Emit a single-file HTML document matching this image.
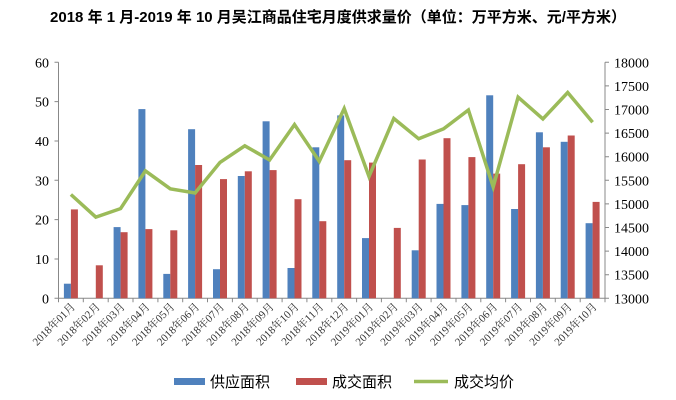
<!DOCTYPE html>
<html><head><meta charset="utf-8"><style>
body{margin:0;background:#fff;}
svg{display:block;}
.t{font-size:14px;}
.x{font-size:11px;fill:#333;}
.g{font-family:"Liberation Sans","Noto Sans CJK SC",sans-serif;font-size:15px;}
</style></head><body>
<svg width="676" height="400" xmlns="http://www.w3.org/2000/svg" font-family="'Liberation Serif','Noto Serif CJK SC',serif">
<text x="338" y="22" text-anchor="middle" font-family="'Liberation Sans','Noto Sans CJK SC',sans-serif" font-weight="bold" font-size="15">2018 年 1 月-2019 年 10 月吴江商品住宅月度供求量价（单位：万平方米、元/平方米）</text>
<g stroke="#888" fill="none">
<line x1="58.5" y1="62.3" x2="58.5" y2="298.3"/><line x1="605" y1="62.3" x2="605" y2="298.3"/><line x1="58.5" y1="298.3" x2="605" y2="298.3"/>
<path d="M54.5 298.3H58.5M54.5 259H58.5M54.5 219.6H58.5M54.5 180.3H58.5M54.5 141H58.5M54.5 101.6H58.5M54.5 62.3H58.5"/>
<path d="M605 298.3H609M605 274.7H609M605 251.1H609M605 227.5H609M605 203.9H609M605 180.3H609M605 156.7H609M605 133.1H609M605 109.5H609M605 85.9H609M605 62.3H609"/>
<path d="M58.5 298.3v4M83.3 298.3v4M108.2 298.3v4M133 298.3v4M157.9 298.3v4M182.7 298.3v4M207.5 298.3v4M232.4 298.3v4M257.2 298.3v4M282.1 298.3v4M306.9 298.3v4M331.8 298.3v4M356.6 298.3v4M381.4 298.3v4M406.3 298.3v4M431.1 298.3v4M456 298.3v4M480.8 298.3v4M505.6 298.3v4M530.5 298.3v4M555.3 298.3v4M580.2 298.3v4M605 298.3v4"/>
</g>
<g class="t" text-anchor="end">
<text x="49" y="303.3">0</text><text x="49" y="264">10</text><text x="49" y="224.6">20</text><text x="49" y="185.3">30</text><text x="49" y="146">40</text><text x="49" y="106.6">50</text><text x="49" y="67.3">60</text>
</g>
<g class="t">
<text x="614" y="303.3">13000</text><text x="614" y="279.7">13500</text><text x="614" y="256.1">14000</text><text x="614" y="232.5">14500</text><text x="614" y="208.9">15000</text><text x="614" y="185.3">15500</text><text x="614" y="161.7">16000</text><text x="614" y="138.1">16500</text><text x="614" y="114.5">17000</text><text x="614" y="90.9">17500</text><text x="614" y="67.3">18000</text>
</g>
<g fill="#4f81bd">
<rect x="63.9" y="283.7" width="7" height="14.6"/>
<rect x="113.6" y="227.1" width="7" height="71.2"/>
<rect x="138.4" y="109.1" width="7" height="189.2"/>
<rect x="163.3" y="273.9" width="7" height="24.4"/>
<rect x="188.1" y="129.2" width="7" height="169.1"/>
<rect x="213" y="269.2" width="7" height="29.1"/>
<rect x="237.8" y="176" width="7" height="122.3"/>
<rect x="262.6" y="121.3" width="7" height="177"/>
<rect x="287.5" y="268" width="7" height="30.3"/>
<rect x="312.3" y="147.3" width="7" height="151"/>
<rect x="337.2" y="115.4" width="7" height="182.9"/>
<rect x="362" y="238.1" width="7" height="60.2"/>
<rect x="411.7" y="250.3" width="7" height="48"/>
<rect x="436.5" y="203.9" width="7" height="94.4"/>
<rect x="461.4" y="205.1" width="7" height="93.2"/>
<rect x="486.2" y="95.3" width="7" height="203"/>
<rect x="511.1" y="209" width="7" height="89.3"/>
<rect x="535.9" y="132.3" width="7" height="166"/>
<rect x="560.7" y="141.8" width="7" height="156.5"/>
<rect x="585.6" y="223.2" width="7" height="75.1"/>
</g>
<g fill="#c0504d">
<rect x="70.9" y="209.4" width="7" height="88.9"/>
<rect x="95.8" y="265.3" width="7" height="33"/>
<rect x="120.6" y="232.2" width="7" height="66.1"/>
<rect x="145.4" y="229.1" width="7" height="69.2"/>
<rect x="170.3" y="230.3" width="7" height="68"/>
<rect x="195.1" y="165" width="7" height="133.3"/>
<rect x="220" y="179.1" width="7" height="119.2"/>
<rect x="244.8" y="171.3" width="7" height="127"/>
<rect x="269.6" y="170.1" width="7" height="128.2"/>
<rect x="294.5" y="199.2" width="7" height="99.1"/>
<rect x="319.3" y="221.2" width="7" height="77.1"/>
<rect x="344.2" y="160.2" width="7" height="138.1"/>
<rect x="369" y="162.6" width="7" height="135.7"/>
<rect x="393.8" y="227.9" width="7" height="70.4"/>
<rect x="418.7" y="159.5" width="7" height="138.8"/>
<rect x="443.5" y="138.2" width="7" height="160.1"/>
<rect x="468.4" y="157.1" width="7" height="141.2"/>
<rect x="493.2" y="173.6" width="7" height="124.7"/>
<rect x="518.1" y="164.2" width="7" height="134.1"/>
<rect x="542.9" y="147.3" width="7" height="151"/>
<rect x="567.7" y="135.5" width="7" height="162.8"/>
<rect x="592.6" y="201.9" width="7" height="96.4"/>
</g>
<polyline fill="none" stroke="#9bbb59" stroke-width="3.5" points="70.9,194.5 95.8,217.1 120.6,208.6 145.4,170.9 170.3,188.8 195.1,193 220,162.4 244.8,145.8 269.6,160 294.5,124.6 319.3,161.4 344.2,108.6 369,176.5 393.8,118.5 418.7,138.8 443.5,128.9 468.4,110 493.2,186.9 518.1,97.2 542.9,118.9 567.7,92.5 592.6,122.2"/>
<g class="x" text-anchor="end">
<text transform="translate(75.9,307.3) rotate(-45)">2018年01月</text>
<text transform="translate(100.8,307.3) rotate(-45)">2018年02月</text>
<text transform="translate(125.6,307.3) rotate(-45)">2018年03月</text>
<text transform="translate(150.4,307.3) rotate(-45)">2018年04月</text>
<text transform="translate(175.3,307.3) rotate(-45)">2018年05月</text>
<text transform="translate(200.1,307.3) rotate(-45)">2018年06月</text>
<text transform="translate(225,307.3) rotate(-45)">2018年07月</text>
<text transform="translate(249.8,307.3) rotate(-45)">2018年08月</text>
<text transform="translate(274.6,307.3) rotate(-45)">2018年09月</text>
<text transform="translate(299.5,307.3) rotate(-45)">2018年10月</text>
<text transform="translate(324.3,307.3) rotate(-45)">2018年11月</text>
<text transform="translate(349.2,307.3) rotate(-45)">2018年12月</text>
<text transform="translate(374,307.3) rotate(-45)">2019年01月</text>
<text transform="translate(398.8,307.3) rotate(-45)">2019年02月</text>
<text transform="translate(423.7,307.3) rotate(-45)">2019年03月</text>
<text transform="translate(448.5,307.3) rotate(-45)">2019年04月</text>
<text transform="translate(473.4,307.3) rotate(-45)">2019年05月</text>
<text transform="translate(498.2,307.3) rotate(-45)">2019年06月</text>
<text transform="translate(523.1,307.3) rotate(-45)">2019年07月</text>
<text transform="translate(547.9,307.3) rotate(-45)">2019年08月</text>
<text transform="translate(572.7,307.3) rotate(-45)">2019年09月</text>
<text transform="translate(597.6,307.3) rotate(-45)">2019年10月</text>
</g>
<rect x="174" y="378" width="31" height="7" fill="#4f81bd"/><text class="g" x="210" y="387">供应面积</text>
<rect x="296" y="378" width="31" height="7" fill="#c0504d"/><text class="g" x="332" y="387">成交面积</text>
<line x1="414" y1="381.5" x2="448" y2="381.5" stroke="#9bbb59" stroke-width="3.5"/><text class="g" x="454" y="387">成交均价</text>
</svg>
</body></html>
